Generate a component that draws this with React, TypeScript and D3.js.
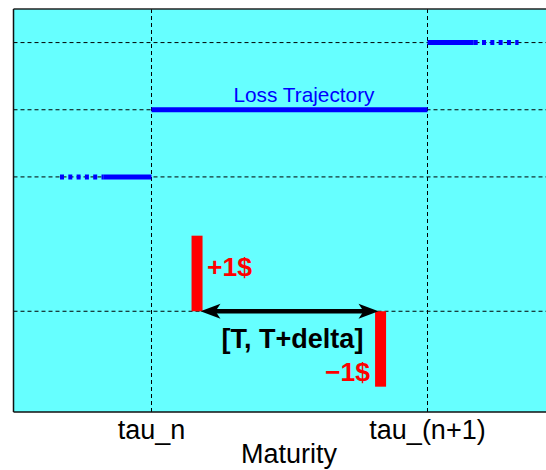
import React from "react";
import * as d3 from "d3";

const xTickValues = [1, 3];
const xTickLabels = ["tau_n", "tau_(n+1)"];
const yGridValues = [3, 2, 1, -1];

// trajectory: solid and dotted pieces [x0, x1, level]
const solidSegments: [number, number, number][] = [
  [0.65, 1, 1],
  [1, 3, 2],
  [3, 3.335, 3],
];
const dottedSegments: [number, number, number][] = [
  [0.337, 0.65, 1],
  [3.335, 3.66, 3],
];

// cash-flow bars: [x, from, to]
const cashBars: [number, number, number][] = [
  [1.33, -1, 0.125],
  [2.66, -1, -2.123],
];
const arrowSpan: [number, number, number] = [1.355, 2.645, -1];

const W = 546;
const H = 470;
const FONT = "'Liberation Sans', Arial, Helvetica, sans-serif";

export default function App() {
  const x = d3.scaleLinear().domain([0, 4]).range([13.5, 565.5]);
  const y = d3.scaleLinear().domain([-2.5, 3.5]).range([412, 9]);
  const [x0, x1] = x.range();
  const [yb, yt] = y.range();
  const line = d3.line<[number, number]>().x((d) => x(d[0])).y((d) => y(d[1]));

  const ax0 = x(arrowSpan[0]);
  const ax1 = x(arrowSpan[1]);
  const ay = y(arrowSpan[2]);
  const headL = 20;
  const headH = 7.5;
  const head = (tip: number, dir: number) =>
    `M${tip},${ay} L${tip + dir * headL},${ay - headH} L${tip + dir * (headL - 5)},${ay} L${tip + dir * headL},${ay + headH} Z`;

  return (
    <svg
      width={W}
      height={H}
      style={{ position: "absolute", left: 0, top: 0, background: "#fff" }}
      fontFamily={FONT}
    >
      <defs>
        <clipPath id="plot">
          <rect x={x0} y={yt} width={x1 - x0} height={yb - yt} />
        </clipPath>
      </defs>
      <rect x={x0} y={yt} width={x1 - x0} height={yb - yt} fill="#66ffff" />
      <g clipPath="url(#plot)">
        {yGridValues.map((v) => (
          <line key={"h" + v} x1={x0} x2={x1} y1={y(v)} y2={y(v)} stroke="#000" strokeWidth={1} strokeDasharray="4 3" />
        ))}
        {xTickValues.map((v) => (
          <line key={"v" + v} x1={x(v)} x2={x(v)} y1={yt} y2={yb} stroke="#000" strokeWidth={1} strokeDasharray="4 3" />
        ))}
        {solidSegments.map((s, i) => (
          <path key={"s" + i} d={line([[s[0], s[2]], [s[1], s[2]]]) || ""} stroke="#0000ff" strokeWidth={5} fill="none" />
        ))}
        {dottedSegments.map((s, i) => (
          <path key={"d" + i} d={line([[s[0], s[2]], [s[1], s[2]]]) || ""} stroke="#0000ff" strokeWidth={5} fill="none" strokeDasharray="4 4.3" />
        ))}
        {cashBars.map((b, i) => (
          <rect
            key={"b" + i}
            x={x(b[0]) - 5.5}
            width={11}
            y={Math.min(y(b[1]), y(b[2]))}
            height={Math.abs(y(b[1]) - y(b[2]))}
            fill="#ff0000"
          />
        ))}
        <line x1={ax0 + 12} x2={ax1 - 12} y1={ay} y2={ay} stroke="#000" strokeWidth={4.5} />
        <path d={head(ax0, 1)} fill="#000" />
        <path d={head(ax1, -1)} fill="#000" />
        <text x={304} y={102} fontSize={20.8} fill="#0000ff" textAnchor="middle">
          Loss Trajectory
        </text>
        <text x={207} y={276} fontSize={26.5} fontWeight="bold" fill="#ff0000">
          +1$
        </text>
        <text x={370} y={380.5} fontSize={26.5} fontWeight="bold" fill="#ff0000" textAnchor="end">
          −1$
        </text>
        <text x={292.5} y={348} fontSize={27} fontWeight="bold" fill="#000" textAnchor="middle">
          [T, T+delta]
        </text>
      </g>
      <line x1={x0} x2={x1} y1={yt} y2={yt} stroke="#222" strokeWidth={1.5} />
      <line x1={x0} x2={x1} y1={yb} y2={yb} stroke="#111" strokeWidth={1.5} />
      <line x1={x0} x2={x0} y1={yt} y2={yb} stroke="#111" strokeWidth={1.5} />
      {xTickValues.map((v, i) => (
        <text key={"t" + v} x={x(v)} y={439} fontSize={27} textAnchor="middle" fill="#000">
          {xTickLabels[i]}
        </text>
      ))}
      <text x={289} y={463} fontSize={27} textAnchor="middle" fill="#000">
        Maturity
      </text>
    </svg>
  );
}
